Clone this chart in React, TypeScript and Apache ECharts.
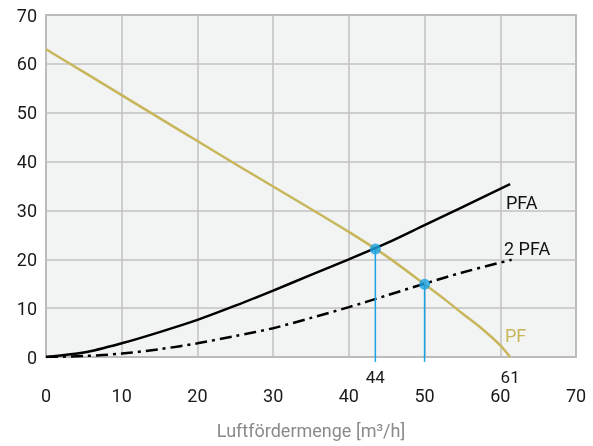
import React, { useEffect, useRef } from "react";
import * as echarts from "echarts";

const xTicks = [0, 10, 20, 30, 40, 50, 60, 70];
const yTicks = [0, 10, 20, 30, 40, 50, 60, 70];

const pfX = [0, 5, 10, 15, 20, 25, 30, 35, 40, 45, 50, 52.5, 55, 57.5, 60, 61.3];
const pfY = [63, 58.3, 53.6, 48.9, 44.2, 39.5, 34.9, 30.3, 25.6, 20.6, 14.9, 12.0, 8.9, 5.9, 2.4, 0];

const pfaX = [0, 5, 10, 15, 20, 25, 30, 35, 40, 45, 50, 55, 61.3];
const pfaY = [0, 0.9, 2.8, 5.1, 7.6, 10.5, 13.6, 16.8, 20.0, 23.3, 27.0, 30.7, 35.4];

const pfa2X = [0, 5, 10, 15, 20, 25, 30, 35, 40, 45, 50, 55, 61.5];
const pfa2Y = [0, 0.2, 0.7, 1.6, 2.8, 4.3, 5.9, 8, 10.2, 12.6, 15, 17.3, 19.9];

const opPointsX = [43.5, 50];
const opPointsY = [22.1, 14.9];
const dropBottom = -1;
const extraTickValues = [43.5, 61.3];
const extraTickTexts = ["44", "61"];

const curveLabels = ["PFA", "2 PFA", "PF"];
const axisTitle = "Luftfördermenge [m³/h]";

const zip = (xs: number[], ys: number[]) => xs.map((x, i) => [x, ys[i]]);

export default function App() {
  const ref = useRef<HTMLDivElement>(null);
  useEffect(() => {
    if (!ref.current) return;
    const chart = echarts.init(ref.current, undefined, { renderer: "svg" });
    const font = "Roboto";
    const gold = "#c8b65b";
    const blue = "#1ba3e3";
    const dropSeries = opPointsX.map((x, i) => ({
      type: "line",
      data: [
        [x, opPointsY[i]],
        [x, dropBottom],
      ],
      clip: false,
      symbol: "none",
      lineStyle: { color: blue, width: 1.5 },
      z: 3,
    }));
    chart.setOption({
      animation: false,
      grid: {
        left: 46,
        right: 17,
        top: 15,
        bottom: 89,
        show: true,
        backgroundColor: "#f2f3f3",
        borderColor: "#8f8f8f",
        borderWidth: 1.5,
      },
      xAxis: [
        {
          type: "value",
          min: xTicks[0],
          max: xTicks[xTicks.length - 1],
          interval: 10,
          axisLine: { show: false },
          axisTick: { show: false },
          splitLine: { lineStyle: { color: "#c2c2c2", width: 1.5 } },
          axisLabel: { fontFamily: font, fontSize: 18, color: "#1a1a1a", margin: 29 },
          name: axisTitle,
          nameLocation: "middle",
          nameGap: 64,
          nameTextStyle: { fontFamily: font, fontSize: 18, color: "#8a8a8a" },
        },
        {
          type: "value",
          position: "bottom",
          min: xTicks[0],
          max: xTicks[xTicks.length - 1],
          axisLine: { show: false },
          axisTick: { show: false },
          splitLine: { show: false },
          axisLabel: {
            fontFamily: font,
            fontSize: 17,
            color: "#1a1a1a",
            margin: 11,
            customValues: extraTickValues,
            formatter: (v: number) => {
              const i = extraTickValues.findIndex((t) => Math.abs(t - v) < 1e-6);
              return i >= 0 ? extraTickTexts[i] : "";
            },
          },
        },
      ],
      yAxis: {
        type: "value",
        min: yTicks[0],
        max: yTicks[yTicks.length - 1],
        interval: 10,
        axisLine: { show: false },
        axisTick: { show: false },
        splitLine: { lineStyle: { color: "#c2c2c2", width: 1.5 } },
        axisLabel: { fontFamily: font, fontSize: 18, color: "#1a1a1a", margin: 9 },
      },
      series: [
        {
          name: "PF",
          type: "line",
          data: zip(pfX, pfY),
          smooth: 0.3,
          symbol: "none",
          lineStyle: { color: gold, width: 2.5 },
          z: 2,
        },
        {
          name: "PFA",
          type: "line",
          data: zip(pfaX, pfaY),
          smooth: 0.3,
          symbol: "none",
          lineStyle: { color: "#000", width: 2.5 },
          z: 2,
        },
        {
          name: "2 PFA",
          type: "line",
          data: zip(pfa2X, pfa2Y),
          smooth: 0.3,
          symbol: "none",
          lineStyle: { color: "#000", width: 2.5, type: [12, 5, 3, 5] },
          z: 2,
        },
        ...dropSeries,
        {
          type: "scatter",
          data: zip(opPointsX, opPointsY),
          symbol: "circle",
          symbolSize: 11,
          itemStyle: { color: blue },
          z: 5,
        },
      ],
      graphic: [
        {
          type: "text",
          left: 506,
          top: 193,
          style: { text: curveLabels[0], font: `18px ${font}`, fill: "#111" },
        },
        {
          type: "text",
          left: 504,
          top: 239,
          style: { text: curveLabels[1], font: `18px ${font}`, fill: "#111" },
        },
        {
          type: "text",
          left: 505,
          top: 326,
          style: { text: curveLabels[2], font: `18px ${font}`, fill: gold },
        },
      ],
    });
    return () => chart.dispose();
  }, []);
  return (
    <div
      ref={ref}
      style={{ position: "fixed", left: 0, top: 0, width: 593, height: 446 }}
    />
  );
}
